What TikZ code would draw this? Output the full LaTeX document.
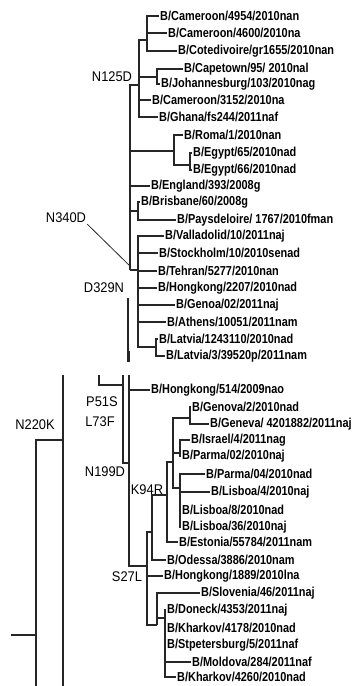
\documentclass[tikz,border=0pt]{standalone}
\usepackage{fontspec}
\setmainfont{Liberation Sans}
\newfontfamily\leaffont{Liberation Sans}[FakeStretch=0.84]
\newfontfamily\mutfont{Liberation Sans}[FakeStretch=0.92]
\usepackage{tikz}
\usetikzlibrary{positioning}

\begin{document}
\begin{tikzpicture}[x=1pt, y=-1pt,
  leaf/.style={anchor=west, inner sep=1pt, text=black,
    font=\leaffont\bfseries\fontsize{13pt}{13pt}\selectfont},
  mut/.style={inner sep=1pt, text=black,
    font=\mutfont\fontsize{14pt}{14pt}\selectfont},
  br/.style={draw=black!85, line width=1.1pt}]
  \useasboundingbox (0,0) rectangle (359,686);
  % upper clade: leaves
  \node[leaf] (c4954)  at (159,16)  {B/Cameroon/4954/2010nan};
  \node[leaf] (c4600)  at (167,33)  {B/Cameroon/4600/2010na};
  \node[leaf] (cote)   at (177,51)  {B/Cotedivoire/gr1655/2010nan};
  \node[leaf] (capet)  at (183,69)  {B/Capetown/95/ 2010nal};
  \node[leaf] (johan)  at (160,84)  {B/Johannesburg/103/2010nag};
  \node[leaf] (c3152)  at (151,100) {B/Cameroon/3152/2010na};
  \node[leaf] (ghana)  at (158,117) {B/Ghana/fs244/2011naf};
  \node[leaf] (roma)   at (183,135) {B/Roma/1/2010nan};
  \node[leaf] (egy65)  at (192,153) {B/Egypt/65/2010nad};
  \node[leaf] (egy66)  at (192,170) {B/Egypt/66/2010nad};
  \node[leaf] (engl)   at (150,186) {B/England/393/2008g};
  \node[leaf] (brisb)  at (140,202) {B/Brisbane/60/2008g};
  \node[leaf] (pays)   at (176,220) {B/Paysdeloire/ 1767/2010fman};
  \node[leaf] (valla)  at (164,236) {B/Valladolid/10/2011naj};
  \node[leaf] (stock)  at (158,253) {B/Stockholm/10/2010senad};
  \node[leaf] (tehr)   at (157,271) {B/Tehran/5277/2010nan};
  \node[leaf] (hk2207) at (157,288) {B/Hongkong/2207/2010nad};
  \node[leaf] (genoa)  at (175,305) {B/Genoa/02/2011naj};
  \node[leaf] (athen)  at (166,322) {B/Athens/10051/2011nam};
  \node[leaf] (latv1)  at (158,339) {B/Latvia/1243110/2010nad};
  \node[leaf] (latv3)  at (165,356) {B/Latvia/3/39520p/2011nam};
  % upper clade: inner nodes
  \coordinate (a147) at (147,40);
  \coordinate (n139) at (139,85);
  \coordinate (cape) at (157,77);
  \coordinate (bb)   at (130,270);
  \coordinate (n174) at (174,151);
  \coordinate (n190) at (190,165);
  \coordinate (n138) at (138,211);
  \coordinate (v138) at (138,270);
  \coordinate (n156) at (156,347);
  \coordinate (j340) at (131,267);
  \coordinate (stemtop) at (128,298);
  \coordinate (stembot) at (128,362);
  \foreach \p/\c in {a147/c4954,a147/c4600,a147/cote,cape/capet,cape/johan,
    n139/c3152,n139/ghana,n174/roma,n190/egy65,n190/egy66,bb/engl,
    n138/brisb,n138/pays,v138/valla,v138/stock,v138/tehr,v138/hk2207,
    v138/genoa,v138/athen,n156/latv1,n156/latv3}
    \draw[br] (\p) |- (\c.west);
  \foreach \p/\c in {bb/n139,n139/a147,n139/cape,bb/n174,n174/n190,
    bb/n138,bb/v138,v138/n156}
    \draw[br] (\p) |- (\c);
  \draw[br] (stemtop) -- (stembot);
  \draw[br, line width=3pt] (stembot) -- ++(0,-11);
  % lower clade: leaves
  \node[leaf] (hk514)  at (150,390) {B/Hongkong/514/2009nao};
  \node[leaf] (genv2)  at (191,407) {B/Genova/2/2010nad};
  \node[leaf] (genev)  at (209,424) {B/Geneva/ 4201882/2011naj};
  \node[leaf] (isra)   at (190,440) {B/Israel/4/2011nag};
  \node[leaf] (parm02) at (181,456) {B/Parma/02/2010naj};
  \node[leaf] (parm04) at (205,474) {B/Parma/04/2010nad};
  \node[leaf] (lisb4)  at (210,492) {B/Lisboa/4/2010naj};
  \node[leaf] (lisb8)  at (181,510) {B/Lisboa/8/2010nad};
  \node[leaf] (lisb36) at (181,527) {B/Lisboa/36/2010naj};
  \node[leaf] (eston)  at (178,542) {B/Estonia/55784/2011nam};
  \node[leaf] (odess)  at (166,560) {B/Odessa/3886/2010nam};
  \node[leaf] (hk1889) at (163,576) {B/Hongkong/1889/2010lna};
  \node[leaf] (slov)   at (200,593) {B/Slovenia/46/2011naj};
  \node[leaf] (donk)   at (166,610) {B/Doneck/4353/2011naj};
  \node[leaf] (khar1)  at (166,628) {B/Kharkov/4178/2010nad};
  \node[leaf] (stpet)  at (166,645) {B/Stpetersburg/5/2011naf};
  \node[leaf] (mold)   at (191,662) {B/Moldova/284/2011naf};
  \node[leaf] (khar2)  at (176,677) {B/Kharkov/4260/2010nad};
  % lower clade: inner nodes
  \coordinate (n99)  at (99,375);
  \coordinate (n123) at (123,385);
  \coordinate (n123top) at (123,375);
  \coordinate (n129) at (129,463);
  \coordinate (n129top) at (129,375);
  \coordinate (n147) at (147,566);
  \coordinate (n152) at (152,532);
  \coordinate (n167) at (167,495);
  \coordinate (n173) at (173,462);
  \coordinate (g190) at (190,418);
  \coordinate (i180) at (180,453);
  \coordinate (p180) at (180,488);
  \coordinate (n157) at (157,625);
  \coordinate (n165) at (165,618);
  \coordinate (k36)  at (36,635);
  \coordinate (kstub) at (11,635);
  \coordinate (k36bot) at (36,686);
  \coordinate (k63)  at (63,440);
  \coordinate (k63top) at (63,375);
  \coordinate (k63bot) at (63,686);
  \foreach \p/\c in {n129/hk514,g190/genv2,g190/genev,i180/isra,i180/parm02,
    p180/parm04,p180/lisb4,p180/lisb8,p180/lisb36,n167/eston,n152/odess,
    n147/hk1889,n157/slov,n165/donk,n165/khar1,n165/stpet,n165/mold,n165/khar2}
    \draw[br] (\p) |- (\c.west);
  \foreach \p/\c in {n99/n123,n123/n129,n129/n147,n147/n152,n147/n157,
    n152/n167,n167/n173,n173/g190,n173/i180,n173/p180,n157/n165,k36/k63}
    \draw[br] (\p) |- (\c);
  \draw[br] (n123top) -- (n123);
  \draw[br] (n129top) -- (n129);
  \draw[br] (kstub) -- (k36) -- (k36bot);
  \draw[br] (k63top) -- (k63bot);
  % mutation labels
  \node[mut] (m125) at (112,77)  {N125D};
  \node[mut] (m340) at (66,218)  {N340D};
  \node[mut] (m329) at (104,288) {D329N};
  \node[mut] (m51)  at (102,402) {P51S};
  \node[mut] (m73)  at (100,422) {L73F};
  \node[mut] (m220) at (35,425)  {N220K};
  \node[mut] (m199) at (105,472) {N199D};
  \node[mut] (m94)  at (147,490) {K94R};
  \node[mut] (m27)  at (127,577) {S27L};
  \draw[black!85, line width=0.8pt] (m340.south east) -- (j340);
\end{tikzpicture}
\end{document}
